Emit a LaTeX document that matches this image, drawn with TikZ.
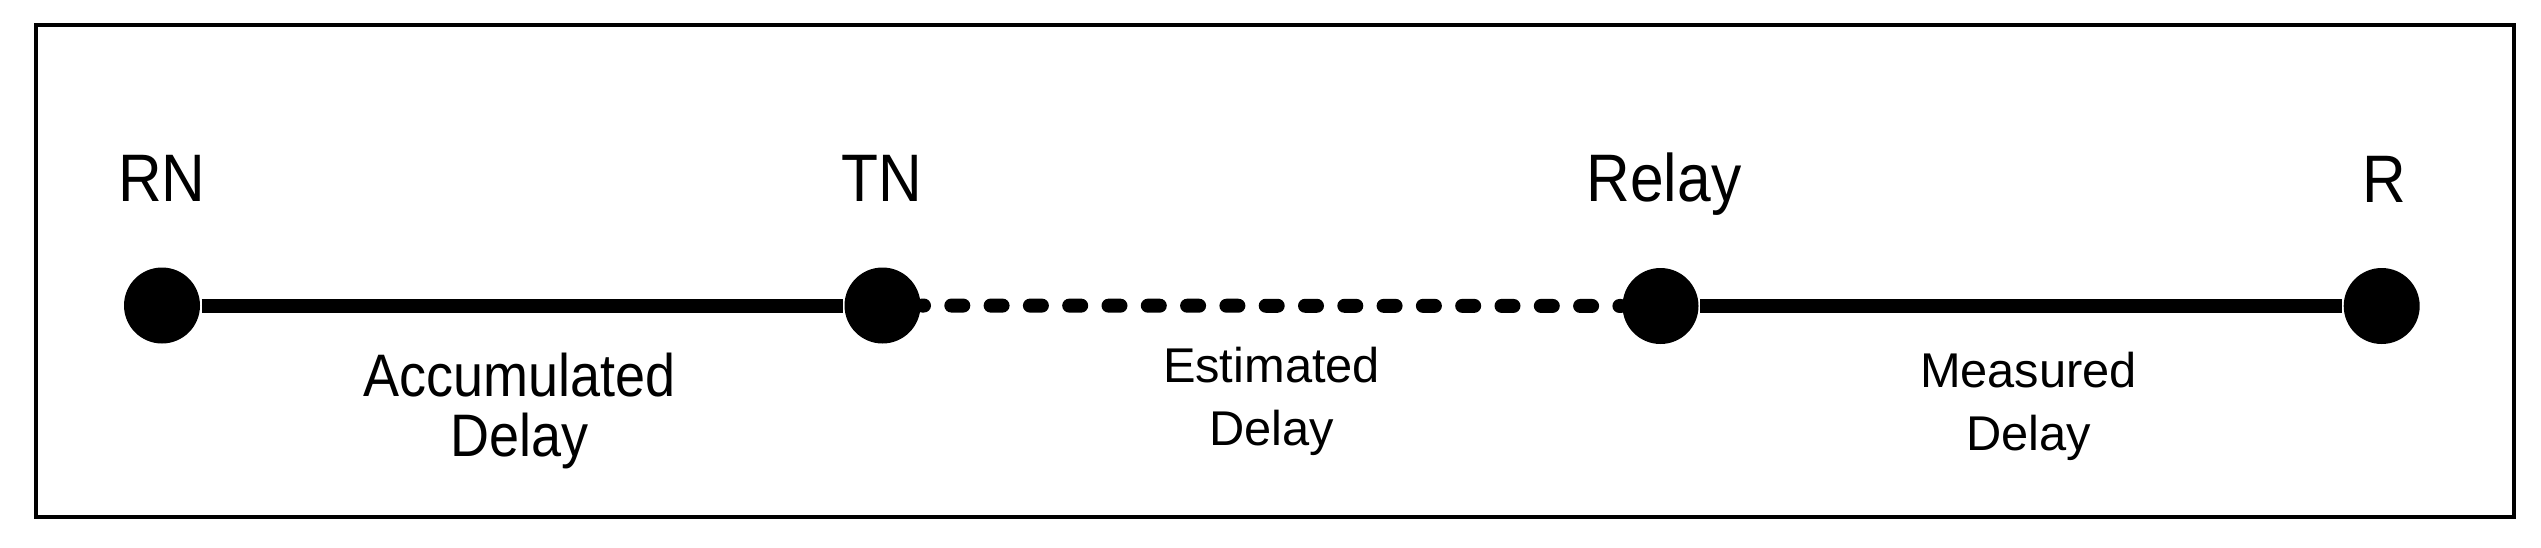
\documentclass[tikz,border=0pt]{standalone}
\usepackage{fontspec}
\setmainfont{Liberation Sans}
\newfontfamily\narrowsans{Liberation Sans}[FakeStretch=0.9]

\tikzset{every picture/.style={line width=0.75pt}}
\tikzset{
  station/.style={circle, fill=black, inner sep=0pt, minimum size=19pt},
  station label/.style={font=\narrowsans\fontsize{16.8}{20}\selectfont, inner sep=0pt, anchor=base},
  delay label/.style={font=\fontsize{12.2}{15.75}\selectfont, align=center, inner sep=0pt, anchor=base},
  solid link/.style={line width=3.5pt},
  estimated link/.style={line width=3.5pt, line cap=round, dash pattern=on 3pt off 6.825pt, dash phase=2.5pt},
}

\begin{document}
\begin{tikzpicture}[x=0.25pt,y=0.25pt,yscale=-1,xscale=1]
		\useasboundingbox (0,0) rectangle (2541,547);

		%Shape: Rectangle
		\draw [line width=0.9pt] (35.7,25) rectangle (2513.7,516.7) ;

		%Shape: Circle
		\node [station] (rn) at (162,305.5) {};
		%Shape: Circle
		\node [station] (tn) at (882.5,305.5) {};
		%Shape: Circle
		\node [station] (relay) at (1660.5,306) {};
		%Shape: Circle
		\node [station] (r) at (2381.7,306) {};

		%Straight Lines
		\draw [solid link] (rn) -- (tn) ;
		%Straight Lines
		\draw [estimated link] (tn) -- (relay) ;
		%Straight Lines
		\draw [solid link] (relay) -- (r) ;

		% Text Node
		\node [station label] (rn label) at (162,201) {RN};
		% Text Node
		\node [station label] (tn label) at (882,201) {TN};
		% Text Node
		\node [station label] (relay label) at (1664,201) {Relay};
		% Text Node
		\node [station label] (r label) at (2384,202) {R};

		% Text Node
		\node [delay label, font=\narrowsans\fontsize{15}{15}\selectfont] (accumulated) at (519.5,456) {Accumulated\\Delay};
		% Text Node
		\node [delay label] (estimated) at (1271.5,445) {Estimated\\Delay};
		% Text Node
		\node [delay label] (measured) at (2028.5,450) {Measured\\Delay};

\end{tikzpicture}
\end{document}
